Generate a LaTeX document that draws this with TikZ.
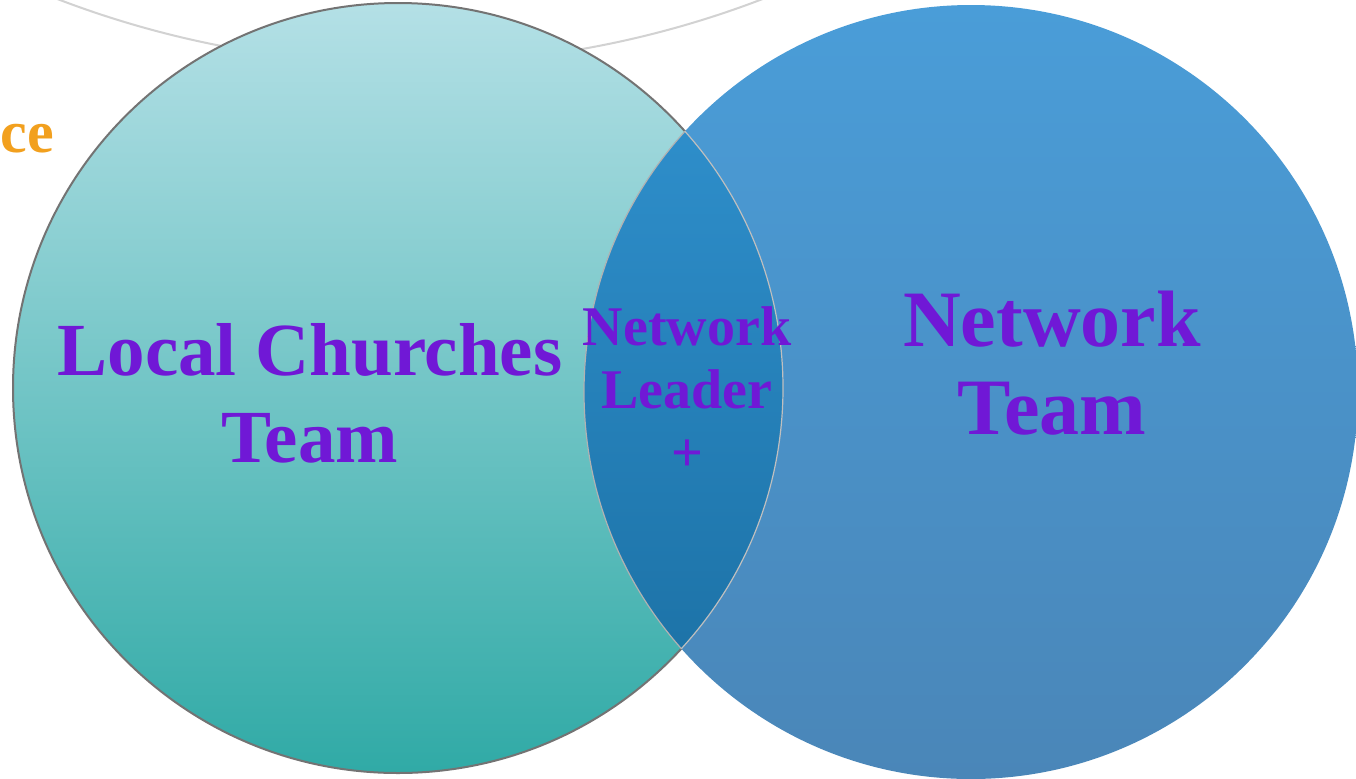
\documentclass[tikz,border=0pt]{standalone}
\usepackage{fontspec}
\setmainfont{Liberation Serif}

\definecolor{lcTop}{RGB}{180,224,230}
\definecolor{lcBottom}{RGB}{48,170,166}
\definecolor{ntTop}{RGB}{74,157,216}
\definecolor{ntBottom}{RGB}{74,134,184}
\definecolor{ovTop}{RGB}{50,148,210}
\definecolor{ovBottom}{RGB}{25,109,160}
\definecolor{teamText}{RGB}{112,24,214}
\definecolor{titleText}{RGB}{242,160,30}

\begin{document}
\begin{tikzpicture}[
    x=0.5pt, y=-0.5pt,
    every node/.style={anchor=center},
    bigtext/.style={font=\bfseries\fontsize{40}{44}\selectfont, text=teamText, align=center},
    lefttext/.style={font=\bfseries\fontsize{37.5}{43.5}\selectfont, text=teamText, align=center},
    midtext/.style={font=\bfseries\fontsize{28}{31.5}\selectfont, text=teamText, align=center},
    title/.style={font=\bfseries\fontsize{30}{34}\selectfont, text=titleText}
    ]

% Page
\fill[white] (0,0) rectangle (1356,778);
\useasboundingbox (0,0) rectangle (1356,778);

% Centres of the two circles
\coordinate (lcc) at (398,388);
\coordinate (ntc) at (971,392);
\coordinate (arcc) at (410,-921);

% Grey arc at the top
\begin{scope}
\clip (0,0) rectangle (1356,778);
\draw[gray!35, line width=1pt] (arcc) circle[radius=985];
\end{scope}

% Title remnant
\node[title, anchor=base west, inner sep=0pt] (ttl) at (0,152) {ce};

% Circles
\shade[top color=lcTop, bottom color=lcBottom, draw=black!55, line width=1pt] (lcc) circle[radius=385];
\shade[top color=ntTop, bottom color=ntBottom] (ntc) circle[radius=387];

% Overlap
\begin{scope}
\clip (lcc) circle[radius=385];
\shade[top color=ovTop, bottom color=ovBottom] (ntc) circle[radius=387];
\draw[black!30, line width=0.6pt] (ntc) circle[radius=387];
\end{scope}
\begin{scope}
\clip (ntc) circle[radius=387];
\draw[black!25, line width=0.6pt] (lcc) circle[radius=385];
\end{scope}

% Labels
\node[lefttext] (lct) at (310,393) {Local Churches\\Team};
\node[midtext] (nll) at (687,389) {Network\\Leader\\+};
\node[bigtext] (ntt) at (1052,363) {Network\\Team};

\end{tikzpicture}
\end{document}
